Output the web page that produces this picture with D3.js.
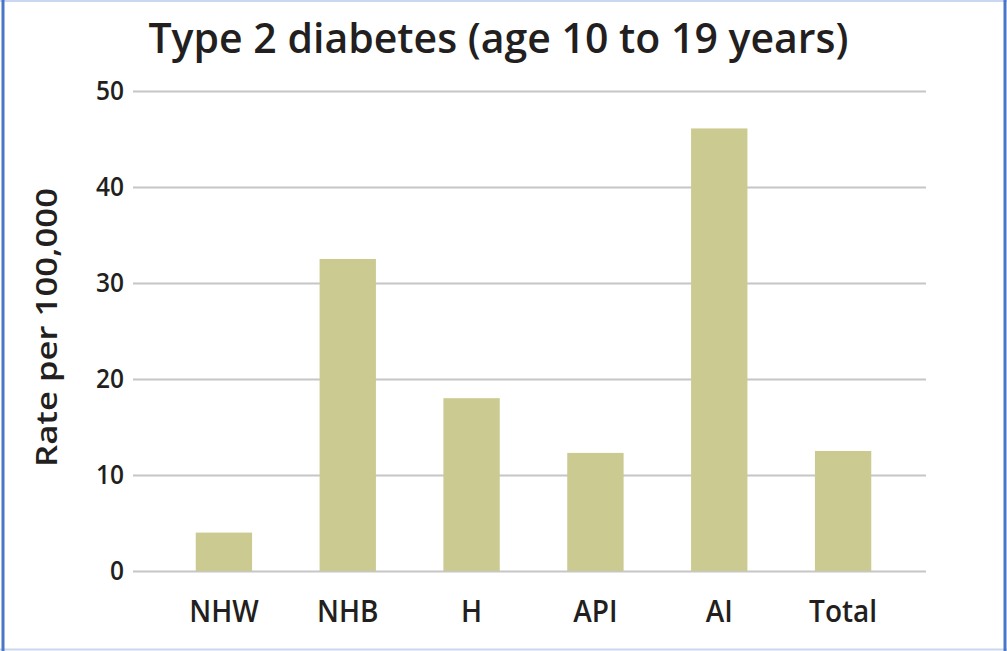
<!DOCTYPE html>
<html>
<head>
<meta charset="utf-8">
<script src="https://cdn.jsdelivr.net/npm/d3@7"></script>
<style>
  html, body { margin: 0; padding: 0; background: #fff; }
  svg { display: block; }
  text { font-family: "Open Sans", "Noto Sans", sans-serif; fill: #231f20; }
</style>
</head>
<body>
<svg id="chart" width="1007" height="651"></svg>
<script>
// Type 2 diabetes incidence, youth aged 10-19, by race/ethnicity
const categories = ["NHW", "NHB", "H", "API", "AI", "Total"];
const rates = [4.0, 32.5, 18.0, 12.3, 46.1, 12.5];
const yTicks = [0, 10, 20, 30, 40, 50];
const titleText = "Type 2 diabetes (age 10 to 19 years)";
const yLabel = "Rate per 100,000";

const W = 1007, H = 651;
const svg = d3.select("#chart");

// frame
svg.append("rect").attr("x", 0).attr("y", 0).attr("width", W).attr("height", H).attr("fill", "#fff");
svg.append("line").attr("x1", 0).attr("x2", W).attr("y1", 1).attr("y2", 1)
  .attr("stroke", "#c9d7f0").attr("stroke-width", 2);
svg.append("line").attr("x1", 0).attr("x2", W).attr("y1", 649.5).attr("y2", 649.5)
  .attr("stroke", "#c9d7f0").attr("stroke-width", 2);
svg.append("line").attr("x1", 3).attr("x2", 3).attr("y1", 0).attr("y2", H)
  .attr("stroke", "#4a76c6").attr("stroke-width", 3);
svg.append("line").attr("x1", 1005).attr("x2", 1005).attr("y1", 0).attr("y2", H)
  .attr("stroke", "#4a76c6").attr("stroke-width", 3);

const plot = { left: 133, right: 926, top: 91, bottom: 571 };

const y = d3.scaleLinear().domain([0, 50]).range([plot.bottom, plot.top]);
const x = d3.scaleBand().domain(categories).range([162, 905])
  .paddingInner(0.545).paddingOuter(0.2725);

// gridlines
const yAxis = d3.axisLeft(y).tickValues(yTicks)
  .tickSize(-(plot.right - plot.left)).tickFormat("");
const gy = svg.append("g").attr("transform", `translate(${plot.left},0)`).call(yAxis);
gy.select(".domain").remove();
gy.selectAll(".tick line").attr("stroke", "#c6c6c6").attr("stroke-width", 2);

// tick labels (slightly tall lettering)
svg.append("g").selectAll("text").data(yTicks).join("text")
  .attr("transform", d => `translate(124,${y(d) + 9}) scale(1,1.12)`)
  .attr("text-anchor", "end").attr("font-size", 24.5).attr("font-weight", 600)
  .text(d => d3.format("d")(d));

// bars
svg.append("g").selectAll("rect").data(rates).join("rect")
  .attr("x", (d, i) => x(categories[i]))
  .attr("width", x.bandwidth())
  .attr("y", d => y(d))
  .attr("height", d => y(0) - y(d))
  .attr("fill", "#cbca90");

// category labels
svg.append("g").selectAll("text").data(categories).join("text")
  .attr("transform", d => `translate(${x(d) + x.bandwidth() / 2},621.5) scale(1,1.08)`)
  .attr("text-anchor", "middle").attr("font-size", 28).attr("font-weight", 600)
  .text(d => d);

// title
svg.append("text").attr("x", 498.5).attr("y", 53).attr("text-anchor", "middle")
  .attr("font-size", 41).attr("font-weight", 600).text(titleText);

// y axis title
svg.append("text").attr("transform", "translate(57,327.5) rotate(-90)")
  .attr("text-anchor", "middle").attr("font-size", 28).attr("font-weight", 600)
  .attr("textLength", 279).attr("lengthAdjust", "spacingAndGlyphs")
  .text(yLabel);
</script>
</body>
</html>
